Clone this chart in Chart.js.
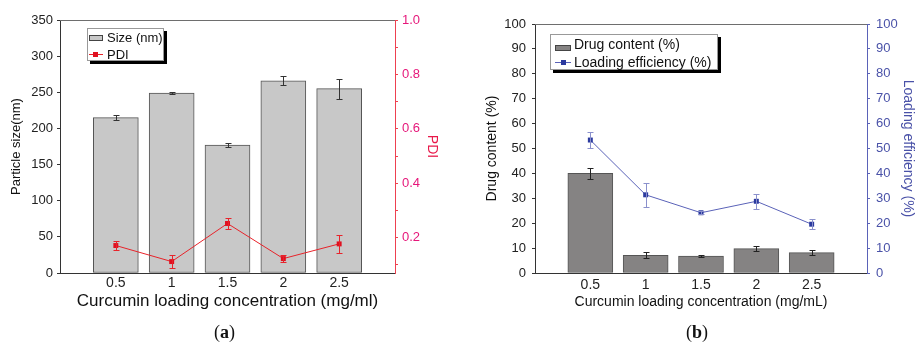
<!DOCTYPE html>
<html>
<head>
<meta charset="utf-8">
<script src="https://cdn.jsdelivr.net/npm/chart.js@4.4.1/dist/chart.umd.min.js"></script>
<style>
  body { margin: 0; background: #fff; font-family: "Liberation Sans", Arial, sans-serif; }
  #wrap { position: relative; width: 916px; height: 343px; overflow: hidden; }
  canvas { position: absolute; top: 0; }
  .legend { position: absolute; background: #fff; border: 1px solid #999; box-shadow: 3px 3px 0 #000; color: #111; }
  .legend span { position: absolute; white-space: nowrap; }
  .sw { position: absolute; box-sizing: border-box; border: 1px solid #444; }
  .ln { position: absolute; height: 1px; }
  .mk { position: absolute; }
  .panel { position: absolute; top: 322px; font-family: "Liberation Serif", "DejaVu Serif", serif; font-size: 18px; color: #111; }
  .panel b { font-weight: bold; }
</style>
</head>
<body>
<div id="wrap">
  <canvas id="chartA" width="458" height="343" style="left:0"></canvas>
  <canvas id="chartB" width="458" height="343" style="left:458px"></canvas>

  <div class="legend" style="left:87px;top:28px;width:75px;height:31px;font-size:13px;">
    <div class="sw" style="left:1px;top:6px;width:14px;height:6px;background:#c8c8c8;"></div>
    <span style="left:19px;top:0px;line-height:17px;">Size (nm)</span>
    <div class="ln" style="left:1px;top:25px;width:14px;background:#e8232a;"></div>
    <div class="mk" style="left:5px;top:23px;width:5px;height:5px;background:#e01020;"></div>
    <span style="left:19px;top:17px;line-height:17px;">PDI</span>
  </div>

  <div class="legend" style="left:550px;top:34px;width:166px;height:34px;font-size:14px;">
    <div class="sw" style="left:4px;top:10px;width:16px;height:6px;background:#858383;"></div>
    <span style="left:23px;top:0px;line-height:18px;">Drug content (%)</span>
    <div class="ln" style="left:4px;top:27px;width:16px;background:#5a62b8;"></div>
    <div class="mk" style="left:10px;top:25px;width:5px;height:5px;background:#2b3a9f;"></div>
    <span style="left:23px;top:18px;line-height:18px;">Loading efficiency (%)</span>
  </div>

  <div class="panel" style="left:214px;">(<b>a</b>)</div>
  <div class="panel" style="left:686px;">(<b>b</b>)</div>
</div>

<script>
// curcumin loading concentration (mg/ml)
const concentrations = [0.5, 1, 1.5, 2, 2.5];

// panel a
const particleSize = [215, 249, 177, 266, 255];
const particleSizeErr = [4, 2, 3, 6, 14];
const pdi = [0.171, 0.112, 0.252, 0.123, 0.177];
const pdiErr = [0.015, 0.025, 0.019, 0.013, 0.032];

// panel b
const drugContent = [40.0, 7.1, 6.8, 9.8, 8.2];
const drugContentErr = [2.3, 1.2, 0.3, 1.0, 0.9];
const loadingEff = [53.4, 31.4, 24.2, 28.8, 19.6];
const loadingEffErr = [3.1, 4.7, 0.5, 2.9, 1.9];

const xTicks = [0, 0.5, 1, 1.5, 2, 2.5, 3];

const pairs = (ys) => concentrations.map((c, i) => ({ x: c, y: ys[i] }));

// error bars, drawn with the dataset's own y scale
const errorBars = {
  id: 'errorBars',
  afterDatasetsDraw(chart) {
    const ctx = chart.ctx;
    chart.data.datasets.forEach((ds, i) => {
      if (!ds.errors) return;
      const meta = chart.getDatasetMeta(i);
      const yScale = chart.scales[meta.yAxisID];
      ctx.save();
      ctx.strokeStyle = ds.errorColor;
      ctx.lineWidth = 1;
      meta.data.forEach((el, j) => {
        const v = ds.data[j].y, e = ds.errors[j];
        const x = Math.round(el.x) + 0.5;
        const yt = Math.round(yScale.getPixelForValue(v + e)) + 0.5;
        const yb = Math.round(yScale.getPixelForValue(v - e)) + 0.5;
        ctx.beginPath();
        ctx.moveTo(x, yt); ctx.lineTo(x, yb);
        ctx.moveTo(x - 3, yt); ctx.lineTo(x + 3, yt);
        ctx.moveTo(x - 3, yb); ctx.lineTo(x + 3, yb);
        ctx.stroke();
      });
      ctx.restore();
    });
  }
};

// top edge of the frame
const topFrame = {
  id: 'topFrame',
  afterDraw(chart) {
    const { ctx, chartArea } = chart;
    ctx.save();
    ctx.strokeStyle = '#6e6e6e';
    ctx.lineWidth = 1;
    ctx.beginPath();
    ctx.moveTo(chartArea.left, Math.round(chartArea.top) + 0.5);
    ctx.lineTo(chartArea.right, Math.round(chartArea.top) + 0.5);
    ctx.stroke();
    ctx.restore();
  }
};

function xAxis(titleText, titleSize, height, padding) {
  return {
    type: 'linear',
    min: 0, max: 3,
    offset: false,
    afterBuildTicks: (s) => { s.ticks = xTicks.map(v => ({ value: v })); },
    afterFit: (s) => { s.height = height; },
    grid: { display: false, drawTicks: false, tickLength: 0, offset: false },
    border: { color: '#333', width: 1 },
    ticks: {
      padding: padding,
      color: '#222',
      font: { size: 14, family: 'Liberation Sans' },
      maxRotation: 0,
      callback: (v) => (v === 0 || v === 3) ? '' : String(v)
    },
    title: {
      display: true, text: titleText, color: '#111', padding: 0,
      font: { size: titleSize, family: 'Liberation Sans' }
    }
  };
}

function yAxis(opts) {
  return {
    type: 'linear',
    position: opts.position,
    min: opts.min, max: opts.max,
    afterBuildTicks: (s) => { s.ticks = opts.ticks.map(v => ({ value: v })); },
    afterFit: (s) => { s.width = opts.width; },
    grid: { display: true, drawOnChartArea: false, drawTicks: true, tickLength: 3, color: opts.line },
    border: { color: opts.line, width: 1 },
    ticks: {
      padding: opts.pad,
      color: opts.label,
      font: { size: 13, family: 'Liberation Sans' },
      callback: opts.fmt
    },
    title: {
      display: true, text: opts.title, color: opts.titleColor, padding: 0,
      font: { size: opts.titleSize, family: 'Liberation Sans' }
    }
  };
}

const steps = (a, b, s) => { const r = []; for (let v = a; v <= b + 1e-9; v += s) r.push(+v.toFixed(4)); return r; };

// panel a
new Chart(document.getElementById('chartA'), {
  type: 'bar',
  data: {
    datasets: [
      {
        type: 'line', label: 'PDI', data: pairs(pdi), yAxisID: 'y1', order: 0,
        borderColor: '#e8232a', borderWidth: 1, tension: 0,
        pointStyle: 'rect', pointRadius: 3.5, pointBackgroundColor: '#e01020', pointBorderColor: '#e01020', pointBorderWidth: 0,
        errors: pdiErr, errorColor: '#e8232a'
      },
      {
        label: 'Size (nm)', data: pairs(particleSize), yAxisID: 'y', order: 1,
        backgroundColor: '#c8c8c8', borderColor: '#555', borderWidth: 1, borderSkipped: false,
        barThickness: 45,
        errors: particleSizeErr, errorColor: '#333'
      }
    ]
  },
  options: {
    responsive: false, animation: false, devicePixelRatio: 1,
    layout: { padding: { left: 9, right: 18, top: 20, bottom: 31 } },
    plugins: { legend: { display: false }, tooltip: { enabled: false } },
    scales: {
      x: xAxis('Curcumin loading concentration (mg/ml)', 17, 39, 2),
      y: yAxis({
        position: 'left', min: 0, max: 350, ticks: steps(0, 350, 25), width: 51, pad: 4,
        line: '#333', label: '#222', title: 'Particle size(nm)', titleColor: '#111', titleSize: 13,
        fmt: (v) => v % 50 === 0 ? String(v) : ''
      }),
      y1: yAxis({
        position: 'right', min: 0.07, max: 1.0, ticks: steps(0.1, 1.0, 0.1), width: 45, pad: 4,
        line: '#ee4050', label: '#e6177a', title: 'PDI', titleColor: '#e8194a', titleSize: 14,
        fmt: (v) => Math.round(v * 10) % 2 === 0 ? v.toFixed(1) : ''
      })
    }
  },
  plugins: [errorBars, topFrame]
});

// panel b
new Chart(document.getElementById('chartB'), {
  type: 'bar',
  data: {
    datasets: [
      {
        type: 'line', label: 'Loading efficiency (%)', data: pairs(loadingEff), yAxisID: 'y1', order: 0,
        borderColor: '#5a62b8', borderWidth: 1, tension: 0,
        pointStyle: 'rect', pointRadius: 3.5, pointBackgroundColor: '#2b3a9f', pointBorderColor: '#2b3a9f', pointBorderWidth: 0,
        errors: loadingEffErr, errorColor: '#8a90cc'
      },
      {
        label: 'Drug content (%)', data: pairs(drugContent), yAxisID: 'y', order: 1,
        backgroundColor: '#858383', borderColor: '#555', borderWidth: 1, borderSkipped: false,
        barThickness: 45,
        errors: drugContentErr, errorColor: '#222'
      }
    ]
  },
  options: {
    responsive: false, animation: false, devicePixelRatio: 1,
    layout: { padding: { left: 26, right: 0, top: 24, bottom: 32 } },
    plugins: { legend: { display: false }, tooltip: { enabled: false } },
    scales: {
      x: xAxis('Curcumin loading concentration (mg/mL)', 14, 38, 4),
      y: yAxis({
        position: 'left', min: 0, max: 100, ticks: steps(0, 100, 5), width: 51, pad: 6,
        line: '#333', label: '#222', title: 'Drug content (%)', titleColor: '#111', titleSize: 14,
        fmt: (v) => v % 10 === 0 ? String(v) : ''
      }),
      y1: yAxis({
        position: 'right', min: 0, max: 100, ticks: steps(0, 100, 5), width: 49, pad: 6,
        line: '#5a62b8', label: '#4a52a8', title: 'Loading efficiency (%)', titleColor: '#4a52a8', titleSize: 14,
        fmt: (v) => v % 10 === 0 ? String(v) : ''
      })
    }
  },
  plugins: [errorBars, topFrame]
});
</script>
</body>
</html>
